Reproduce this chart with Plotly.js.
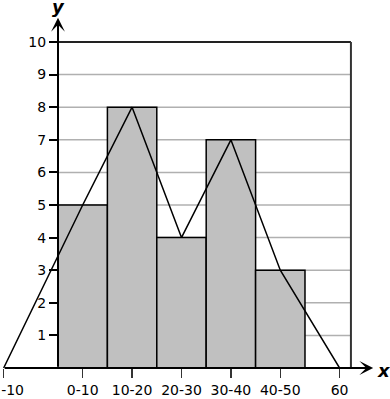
<!DOCTYPE html>
<html>
<head>
<meta charset="utf-8">
<script src="https://cdn.plot.ly/plotly-3.0.1.min.js"></script>
<style>html,body{margin:0;padding:0;background:#fff;}#chart{width:390px;height:399px;}</style>
</head>
<body>
<div id="chart"></div>
<script>
// ---- data ----
const categories = ['0-10', '10-20', '20-30', '30-40', '40-50'];
const binMid = [5, 15, 25, 35, 45];
const binWidth = 10;
const freq = [5, 8, 4, 7, 3];
const polyX = [-11, 5, 15, 25, 35, 45, 57];
const polyY = [0, 5, 8, 4, 7, 3, 0];
const xTickVals = [-11, 5, 15, 25, 35, 45, 57];
const xTickText = ['-10', '0-10', '10-20', '20-30', '30-40', '40-50', '60'];
const yTicks = [1, 2, 3, 4, 5, 6, 7, 8, 9, 10];
const gridMaxX = 59.3;

const font = {family: 'DejaVu Sans, Verdana, sans-serif', size: 14, color: '#000'};

// the first label sits against the left edge of the picture: pad it so it stays inside
const xTickShown = xTickText.map((t, i) => i === 0 ? '\u00a0\u00a0\u00a0\u00a0' + t : t);

const bars = {
  type: 'bar', x: binMid, y: freq, width: binMid.map(() => binWidth),
  text: categories, textposition: 'none',
  marker: {color: '#c0c0c0', line: {color: '#000', width: 1.5}},
  hoverinfo: 'skip'
};
const poly = {
  type: 'scatter', mode: 'lines', x: polyX, y: polyY,
  line: {color: '#000', width: 1.5}, cliponaxis: false, hoverinfo: 'skip'
};

const shapes = [];
const topTick = yTicks[yTicks.length - 1];
yTicks.forEach(v => {
  shapes.push({type: 'line', xref: 'x', yref: 'y', x0: 0, x1: gridMaxX, y0: v, y1: v, layer: 'below',
    line: {color: v === topTick ? '#222' : '#b0b0b0', width: v === topTick ? 2 : 1.5}});
});
shapes.push({type: 'line', xref: 'x', yref: 'y', x0: gridMaxX, x1: gridMaxX, y0: 0, y1: topTick, layer: 'below',
  line: {color: '#333', width: 2}});

const annotations = [
  {xref: 'x', yref: 'y', x: 0, y: 10.74, ax: 0, ay: 350, axref: 'pixel', ayref: 'pixel', text: '', showarrow: true,
    arrowhead: 3, arrowwidth: 2, arrowsize: 1.15, arrowcolor: '#000', standoff: 0},
  {xref: 'x', yref: 'y', x: 63.8, y: 0, ax: -370, ay: 0, axref: 'pixel', ayref: 'pixel', text: '', showarrow: true,
    arrowhead: 3, arrowwidth: 2, arrowsize: 1.15, arrowcolor: '#000', standoff: 0},
  {xref: 'x', yref: 'y', x: 0.2, y: 11.1, text: '<b><i>y</i></b>', showarrow: false,
    font: {family: 'DejaVu Sans, sans-serif', size: 18, color: '#000'}, xanchor: 'center', yanchor: 'middle'},
  {xref: 'x', yref: 'y', x: 66.0, y: 0, yshift: -2, text: '<b><i>x</i></b>', showarrow: false,
    font: {family: 'DejaVu Sans, sans-serif', size: 18, color: '#000'}, xanchor: 'center', yanchor: 'middle'}
];

const layout = {
  width: 390, height: 399,
  margin: {l: 0, r: 0, t: 0, b: 31, pad: 0},
  paper_bgcolor: '#fff', plot_bgcolor: '#fff',
  showlegend: false, hovermode: false, bargap: 0,
  font: font,
  xaxis: {
    range: [-11.741, 67.21], showgrid: false, zeroline: false, showline: false,
    tickmode: 'array', tickvals: xTickVals, ticktext: xTickShown, ticklabeloverflow: 'allow',
    ticks: 'outside', ticklen: 9, tickwidth: 1.5, tickcolor: '#333', tickfont: font
  },
  yaxis: {
    range: [0, 11.288], anchor: 'free', position: 58 / 390,
    showgrid: false, zeroline: false, showline: false,
    tickmode: 'array', tickvals: yTicks, ticklabeloverflow: 'allow',
    ticks: 'outside', ticklen: 9, tickwidth: 2, tickcolor: '#000', tickfont: font
  },
  shapes: shapes,
  annotations: annotations
};

Plotly.newPlot('chart', [bars, poly], layout, {displayModeBar: false, staticPlot: true});
</script>
</body>
</html>
